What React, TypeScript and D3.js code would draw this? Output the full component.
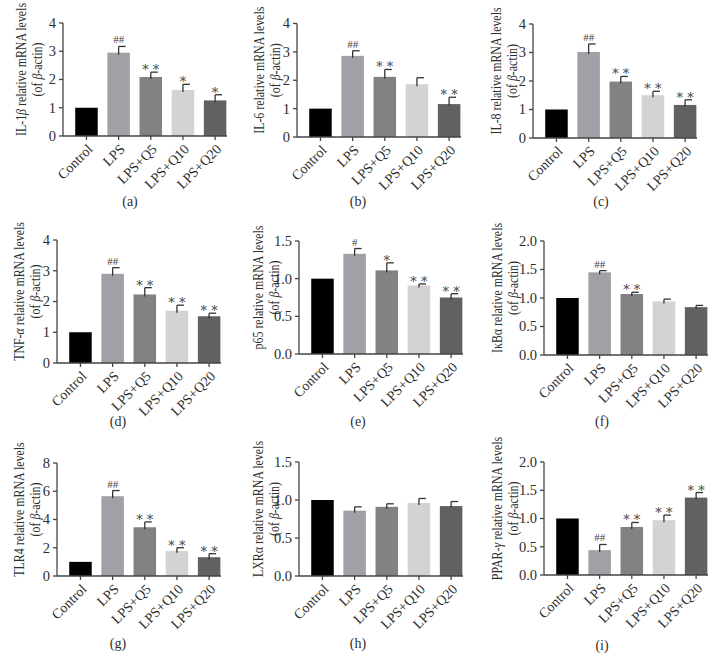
import * as d3 from "d3";

// groups on the x axis
const groups = ["Control", "LPS", "LPS+Q5", "LPS+Q10", "LPS+Q20"];
const barColors = ["#000000", "#a0a0a6", "#828282", "#d3d3d3", "#616161"];

// mean / error (SEM) / significance mark per panel
const il1bMean = [1.0, 2.95, 2.09, 1.63, 1.26];
const il1bErr = [0, 0.22, 0.17, 0.2, 0.2];
const il1bSig = ["", "##", "* *", "*", "*"];

const il6Mean = [1.0, 2.86, 2.12, 1.86, 1.16];
const il6Err = [0, 0.18, 0.26, 0.23, 0.24];
const il6Sig = ["", "##", "* *", "", "* *"];

const il8Mean = [1.0, 3.02, 1.98, 1.5, 1.16];
const il8Err = [0, 0.28, 0.18, 0.14, 0.18];
const il8Sig = ["", "##", "* *", "* *", "* *"];

const tnfMean = [1.0, 2.9, 2.23, 1.7, 1.52];
const tnfErr = [0, 0.2, 0.22, 0.18, 0.1];
const tnfSig = ["", "##", "* *", "* *", "* *"];

const p65Mean = [1.0, 1.33, 1.11, 0.91, 0.75];
const p65Err = [0, 0.07, 0.1, 0.02, 0.05];
const p65Sig = ["", "#", "*", "* *", "* *"];

const ikbMean = [1.0, 1.45, 1.07, 0.94, 0.84];
const ikbErr = [0, 0.03, 0.03, 0.04, 0.03];
const ikbSig = ["", "##", "* *", "", ""];

const tlr4Mean = [1.0, 5.65, 3.45, 1.78, 1.33];
const tlr4Err = [0, 0.4, 0.38, 0.22, 0.25];
const tlr4Sig = ["", "##", "* *", "* *", "* *"];

const lxrMean = [1.0, 0.86, 0.91, 0.96, 0.92];
const lxrErr = [0, 0.05, 0.04, 0.06, 0.06];
const lxrSig = ["", "", "", "", ""];

const pparMean = [1.0, 0.44, 0.85, 0.97, 1.37];
const pparErr = [0, 0.1, 0.08, 0.09, 0.09];
const pparSig = ["", "##", "* *", "* *", "* *"];

const ticks4 = [0, 1, 2, 3, 4];
const ticks15 = [0, 0.5, 1.0, 1.5];
const ticks2 = [0, 0.5, 1.0, 1.5, 2.0];
const ticks8 = [0, 2, 4, 6, 8];

const FONT = "'Liberation Serif', 'Times New Roman', serif";
const INK = "#2e2e2e";

// gene label: [plain before, italic greek, plain after]
const panels = [
  { id: "a", gene: ["IL-1", "β", ""], mean: il1bMean, err: il1bErr, sig: il1bSig, ticks: ticks4, fmt: "d", ax: 63, top: 23, bottom: 136, lx: 26, cx: 130, cy: 206 },
  { id: "b", gene: ["IL-6", "", ""], mean: il6Mean, err: il6Err, sig: il6Sig, ticks: ticks4, fmt: "d", ax: 297, top: 23.5, bottom: 137, lx: 264, cx: 358, cy: 206 },
  { id: "c", gene: ["IL-8", "", ""], mean: il8Mean, err: il8Err, sig: il8Sig, ticks: ticks4, fmt: "d", ax: 533, top: 24, bottom: 138, lx: 501, cx: 601, cy: 206 },
  { id: "d", gene: ["TNF-", "α", ""], mean: tnfMean, err: tnfErr, sig: tnfSig, ticks: ticks4, fmt: "d", ax: 57, top: 240, bottom: 363, lx: 24, cx: 118, cy: 426 },
  { id: "e", gene: ["p65", "", ""], mean: p65Mean, err: p65Err, sig: p65Sig, ticks: ticks15, fmt: ".1f", ax: 299, top: 241, bottom: 354, lx: 263, cx: 358, cy: 426 },
  { id: "f", gene: ["IκBα", "", ""], mean: ikbMean, err: ikbErr, sig: ikbSig, ticks: ticks2, fmt: ".1f", ax: 544, top: 241, bottom: 355, lx: 502, cx: 602, cy: 426 },
  { id: "g", gene: ["TLR4", "", ""], mean: tlr4Mean, err: tlr4Err, sig: tlr4Sig, ticks: ticks8, fmt: "d", ax: 57, top: 463, bottom: 576, lx: 24, cx: 118, cy: 648 },
  { id: "h", gene: ["LXRα", "", ""], mean: lxrMean, err: lxrErr, sig: lxrSig, ticks: ticks15, fmt: ".1f", ax: 299, top: 462, bottom: 576, lx: 263, cx: 358, cy: 648 },
  { id: "i", gene: ["PPAR-", "γ", ""], mean: pparMean, err: pparErr, sig: pparSig, ticks: ticks2, fmt: ".1f", ax: 544, top: 462, bottom: 575, lx: 502, cx: 602, cy: 650 },
];

const Panel = ({ p }) => {
  const x = d3.scaleBand().domain(groups).range([p.ax, p.ax + 164]).paddingInner(0.3).paddingOuter(0.2).align(0.95);
  const y = d3.scaleLinear().domain([0, p.ticks[p.ticks.length - 1]]).range([p.bottom, p.top]);
  const f = d3.format(p.fmt);
  const mid = (p.top + p.bottom) / 2 - 10;
  const bw = x.bandwidth();

  return (
    <g fontFamily={FONT}>
      {/* bars + error bars */}
      {groups.map((g, i) => {
        const x0 = x(g);
        const cx = x0 + bw / 2;
        const yTop = y(p.mean[i]);
        const yErr = y(p.mean[i] + p.err[i]);
        const star = p.sig[i].includes("*");
        return (
          <g key={g}>
            <rect x={x0} y={yTop} width={bw} height={p.bottom - yTop} fill={barColors[i]} />
            {p.err[i] > 0 && (
              <g stroke="#333" strokeWidth={1.3}>
                <line x1={cx} x2={cx} y1={yTop + 2} y2={yErr} />
                <line x1={cx} x2={cx + 7} y1={yErr} y2={yErr} />
              </g>
            )}
            {p.sig[i] && (
              <text
                x={cx}
                y={star ? yErr + 2 : yErr - 3}
                textAnchor="middle"
                fontSize={star ? 13 : 11}
                fill="#444"
                fontFamily={star ? "'DejaVu Serif', serif" : FONT}
              >
                {p.sig[i]}
              </text>
            )}
          </g>
        );
      })}

      {/* y axis */}
      <line x1={p.ax} x2={p.ax} y1={p.top} y2={p.bottom} stroke="#444" strokeWidth={1.3} />
      {p.ticks.map((t) => (
        <g key={t}>
          <line x1={p.ax - 4} x2={p.ax} y1={y(t)} y2={y(t)} stroke="#444" strokeWidth={1.3} />
          <text x={p.ax - 7} y={y(t)} dy="0.34em" textAnchor="end" fontSize={14.5} fill={INK}>
            {f(t)}
          </text>
        </g>
      ))}

      {/* x axis */}
      <line x1={p.ax} x2={p.ax + 164} y1={p.bottom} y2={p.bottom} stroke="#444" strokeWidth={1.3} />
      {groups.map((g) => {
        const cx = x(g) + bw / 2;
        return (
          <g key={g}>
            <line x1={cx} x2={cx} y1={p.bottom} y2={p.bottom + 4} stroke="#444" strokeWidth={1.3} />
            <text transform={`translate(${cx + 7},${p.bottom + 14}) rotate(-45)`} textAnchor="end" fontSize={14} fill={INK}>
              {g}
            </text>
          </g>
        );
      })}

      {/* y label, two lines (narrowed along the run to fit like the original) */}
      <text transform={`translate(${p.lx},${mid}) rotate(-90) scale(0.85,1)`} textAnchor="middle" fontSize={14} fill={INK}>
        {p.gene[0]}
        {p.gene[1] && <tspan fontStyle="italic">{p.gene[1]}</tspan>}
        {p.gene[2]} relative mRNA levels
      </text>
      <text transform={`translate(${p.lx + 16},${mid}) rotate(-90) scale(0.85,1)`} textAnchor="middle" fontSize={14} fill={INK}>
        (of <tspan fontStyle="italic">β</tspan>-actin)
      </text>

      {/* panel letter */}
      <text x={p.cx} y={p.cy} textAnchor="middle" fontSize={14} fill={INK}>
        ({p.id})
      </text>
    </g>
  );
};

export default function App() {
  return (
    <svg width={725} height={671} style={{ position: "absolute", left: 0, top: 0, background: "#fff" }}>
      <rect width={725} height={671} fill="#fff" />
      {panels.map((p) => (
        <Panel key={p.id} p={p} />
      ))}
    </svg>
  );
}
